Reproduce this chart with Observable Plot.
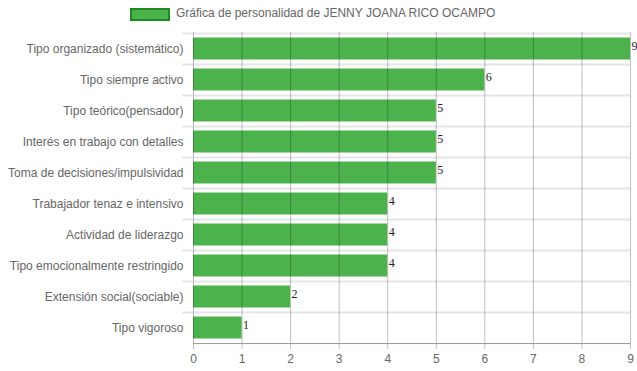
<!DOCTYPE html>
<html>
<head>
<meta charset="utf-8">
<script src="https://cdn.jsdelivr.net/npm/d3@7"></script>
<script src="https://cdn.jsdelivr.net/npm/@observablehq/plot@0.6"></script>
<style>
  body { margin: 0; background: #fff; font-family: "Liberation Sans", Arial, sans-serif; }
  #legend { position: relative; height: 28px; width: 637px; }
  #legend .box { position: absolute; left: 130px; top: 8px; width: 36px; height: 9px; background: #4cb34c; border: 2px solid #1f8a1f; }
  #legend .lbl { position: absolute; left: 176px; top: 6px; font-size: 12px; color: #666; white-space: nowrap; }
</style>
</head>
<body>
<div id="legend"><div class="box"></div><div class="lbl">Gráfica de personalidad de JENNY JOANA RICO OCAMPO</div></div>
<div id="chart"></div>
<script>
const categories = [
  "Tipo organizado (sistemático)",
  "Tipo siempre activo",
  "Tipo teórico(pensador)",
  "Interés en trabajo con detalles",
  "Toma de decisiones/impulsividad",
  "Trabajador tenaz e intensivo",
  "Actividad de liderazgo",
  "Tipo emocionalmente restringido",
  "Extensión social(sociable)",
  "Tipo vigoroso"
];
const values = [9, 6, 5, 5, 5, 4, 4, 4, 2, 1];
const xTicks = [0, 1, 2, 3, 4, 5, 6, 7, 8, 9];

const data = categories.map((c, i) => ({category: c, value: values[i]}));
const lastCat = categories[categories.length - 1];
const band = 31.1;

const chart = Plot.plot({
  width: 637,
  height: 343,
  marginTop: 4,
  marginBottom: 28,
  marginLeft: 193,
  marginRight: 7,
  style: {fontFamily: "'Liberation Sans', Arial, sans-serif", fontSize: "12px", color: "#666", background: "#fff"},
  x: {domain: [0, 9], ticks: xTicks, label: null},
  y: {domain: categories, padding: 0, label: null},
  marks: [
    Plot.ruleY(categories, {y: d => d, dy: -band / 2, stroke: "#e6e6e6", strokeWidth: 2, insetLeft: -11}),
    Plot.barX(data, {x: "value", y: "category", fill: "#4cb34c", insetTop: 4.5, insetBottom: 4.5}),
    Plot.ruleX(xTicks, {x: d => d, stroke: "#000", strokeOpacity: 0.25, insetBottom: -6}),
    Plot.ruleY([lastCat], {y: d => d, dy: band / 2, stroke: "#999"}),
    Plot.text(data, {x: "value", y: "category", text: d => String(d.value), textAnchor: "start", dx: 1, dy: -3, fill: "#222", fontFamily: "'Liberation Serif', 'Times New Roman', serif", fontSize: 12}),
    Plot.axisY({tickSize: 0, tickPadding: 10, label: null}),
    Plot.axisX({ticks: xTicks, tickSize: 0, tickPadding: 11, tickFormat: d => String(d), label: null})
  ]
});
document.getElementById("chart").appendChild(chart);
</script>
</body>
</html>
